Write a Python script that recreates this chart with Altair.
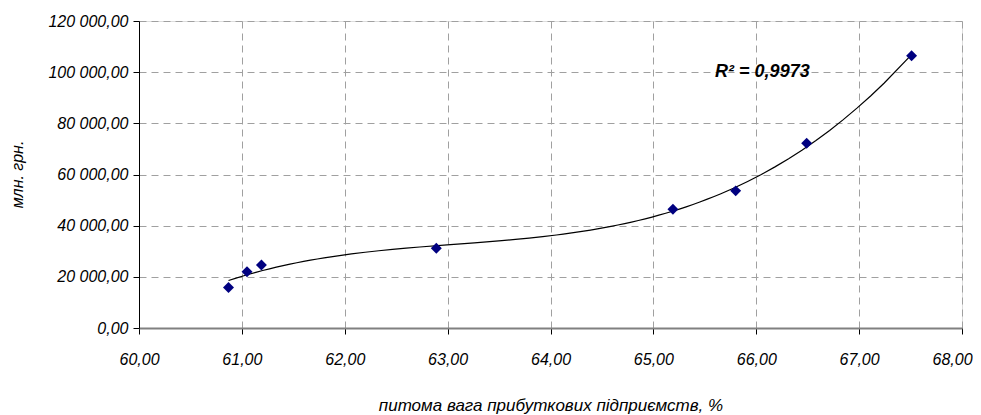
import altair as alt
import pandas as pd

# data
share_pct = [60.87, 61.05, 61.19, 62.89, 65.19, 65.80, 66.49, 67.51]
value_mln = [15800, 22000, 24600, 31200, 46400, 53600, 72200, 106400]
x_ticks = [60, 61, 62, 63, 64, 65, 66, 67, 68]
y_ticks = [0, 20000, 40000, 60000, 80000, 100000, 120000]
r2_text = ["R² = 0,9973"]
r2_pos_x = [65.6]
r2_pos_y = [100000]

FONT = "Liberation Sans"

df = pd.DataFrame({"x": share_pct, "y": value_mln})
ann = pd.DataFrame({"x": r2_pos_x, "y": r2_pos_y, "t": r2_text})

fmt = "replace(replace(format(datum.value, ',.2f'), ',', ' '), '.', ',')"

xsc = alt.Scale(domain=[60, 68], nice=False, zero=False)
ysc = alt.Scale(domain=[0, 120000], nice=False)

xaxis = alt.Axis(
    values=x_ticks, labelExpr=fmt, title="питома вага прибуткових підприємств, %",
    labelFont=FONT, labelFontSize=16, labelFontStyle="italic", labelColor="#000",
    labelPadding=17, titleFont=FONT, titleFontSize=17, titleFontStyle="italic",
    titleFontWeight="normal", titleColor="#000", titleBaseline="middle", titleY=77,
    labelOffset={"condition": {"test": "datum.value >= 68", "value": -10}, "value": 0},
    domainColor="#808080", domainWidth=2, tickColor="#000", tickSize=6,
    gridColor="#a0a0a0", gridDash=[7, 5], labelFlush=False,
)
yaxis = alt.Axis(
    values=y_ticks, labelExpr=fmt, title="млн. грн.",
    labelFont=FONT, labelFontSize=16, labelFontStyle="italic", labelColor="#000",
    labelPadding=5, titleFont=FONT, titleFontSize=16, titleFontStyle="italic",
    titleFontWeight="normal", titleColor="#000", titleX=-122, titleY=153,
    titleAngle=-90, titleBaseline="middle", titleAlign="center",
    domainColor="#000", tickColor="#000", tickSize=6,
    gridColor="#a0a0a0", gridDash=[7, 5], labelFlush=False,
)

base = alt.Chart(df)

trend = base.transform_regression(
    "x", "y", method="poly", order=3, extent=[share_pct[0], share_pct[-1]]
).mark_line(color="#000000", strokeWidth=1.2).encode(
    x=alt.X("x:Q", scale=xsc, axis=xaxis),
    y=alt.Y("y:Q", scale=ysc, axis=yaxis),
)

points = base.mark_point(
    shape="diamond", filled=True, color="#000080", size=120, opacity=1
).encode(x=alt.X("x:Q", scale=xsc), y=alt.Y("y:Q", scale=ysc))

label = alt.Chart(ann).mark_text(
    font=FONT, fontSize=18, fontStyle="italic", fontWeight="bold",
    align="left", baseline="middle", color="#000"
).encode(x=alt.X("x:Q", scale=xsc), y=alt.Y("y:Q", scale=ysc), text="t:N")

chart = alt.layer(trend, points, label).properties(
    width=823, height=307,
    autosize=alt.AutoSizeParams(type="none"),
    padding={"left": 131, "top": 13, "right": 11, "bottom": 87},
).configure_view(stroke=None).configure(background="white")

chart.save("out.html", embed_options={"renderer": "svg", "actions": False})
